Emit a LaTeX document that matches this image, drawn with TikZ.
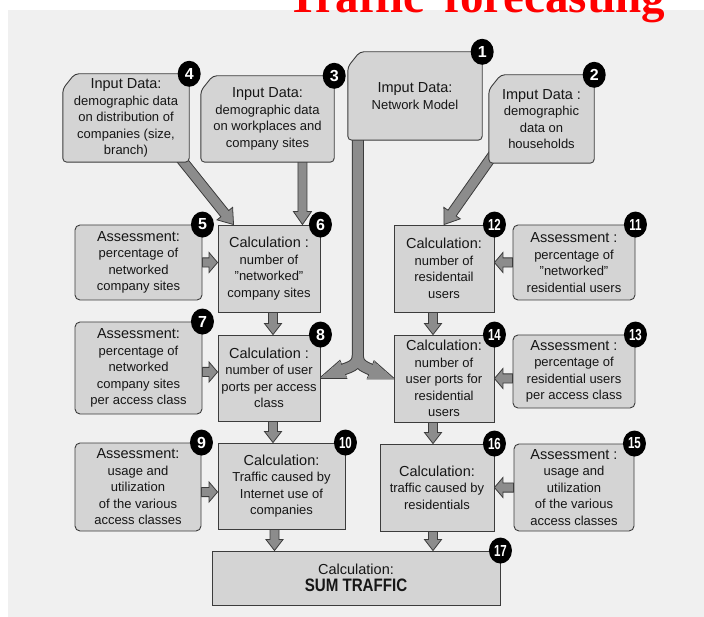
\documentclass[tikz,border=0pt]{standalone}
\usepackage{fontspec}
\setmainfont{Liberation Sans}
\newfontfamily\titlefont{Liberation Serif}
\usepackage{graphicx}
\usetikzlibrary{
    calc,
    shapes.geometric,
    positioning
}
\definecolor{panelgray}{HTML}{F0F0F0}
\definecolor{boxgray}{HTML}{D4D4D4}
\definecolor{edgegray}{HTML}{3C3C3C}
\definecolor{arrowgray}{HTML}{8C8C8C}
\definecolor{textgray}{HTML}{161616}
\pgfdeclarelayer{panel}
\pgfdeclarelayer{arrows}
\pgfdeclarelayer{frames}
\pgfsetlayers{panel,arrows,frames,main}
\tikzset{
    box/.style={align=center, text=textgray, inner sep=1pt, font=\fontsize{13}{16.5}\selectfont},
    calcbox/.style={box, draw=edgegray, fill=boxgray, line width=0.9pt},
    assessbox/.style={calcbox, rounded corners=5pt},
    inputbox/.style={box},
    inputframe/.style={draw=edgegray, fill=boxgray, line width=0.9pt, rounded corners=4pt},
    badge/.style={ellipse, fill=black, text=white, inner sep=0pt, minimum width=23pt, minimum height=26pt, font=\fontsize{16}{16}\selectfont\bfseries},
    blockarrow/.style={draw=edgegray, fill=arrowgray, line width=0.8pt, line join=miter}
}
\newcommand{\hd}[1]{{\fontsize{14.5}{16.5}\selectfont #1}}
\newcommand{\nn}[1]{\scalebox{0.72}[1]{#1}}
% from, to, half shaft, head length, half head
\newcommand{\blockarrow}[5]{%
    \draw[blockarrow]
    ($(#1)!#3!90:(#2)$) --
    ($($(#2)!#4!(#1)$)!#3!-90:(#1)$) --
    ($($(#2)!#4!(#1)$)!#5!-90:(#1)$) --
    (#2) --
    ($($(#2)!#4!(#1)$)!#5!90:(#1)$) --
    ($($(#2)!#4!(#1)$)!#3!90:(#1)$) --
    ($(#1)!#3!-90:(#2)$) -- cycle;}

\begin{document}
\begin{tikzpicture}[x=1pt, y=-1pt]
    \useasboundingbox (0,0) rectangle (704,617);
    \begin{pgfonlayer}{panel}
        \fill[panelgray] (8,10) rectangle (704,617);
    \end{pgfonlayer}
    \node[anchor=base west, text=red, inner sep=0pt, font=\titlefont\bfseries\fontsize{47}{50}\selectfont] (title) at (287,13) {Traffic\hspace{0.42em}forecasting};

    \node[inputbox, minimum width=126pt, minimum height=88pt] (n4) at (126,118) {\hd{Input Data:}\\demographic data\\on distribution of\\companies (size,\\branch)};
    \node[inputbox, minimum width=133pt, minimum height=86pt] (n3) at (267.5,119) {\hd{Input Data:}\\demographic data\\on workplaces and\\company sites};
    \node[inputbox, minimum width=134pt, minimum height=88pt] (n1) at (415,96) {\hd{Imput Data:}\\Network Model};
    \node[inputbox, minimum width=105pt, minimum height=88pt] (n2) at (541.5,119) {\hd{Imput Data :}\\demographic\\data on\\households};

    \node[assessbox, minimum width=127pt, minimum height=75pt] (n5) at (138.5,262.5) {\hd{Assessment:}\\percentage of\\networked\\company sites};
    \node[calcbox, minimum width=102pt, minimum height=87pt] (n6) at (269,268.5) {\hd{Calculation :}\\number of\\"networked"\\company sites};
    \node[assessbox, minimum width=127pt, minimum height=92pt] (n7) at (138.5,368) {\hd{Assessment:}\\percentage of\\networked\\company sites\\per access class};
    \node[calcbox, minimum width=102pt, minimum height=86pt] (n8) at (269,378) {\hd{Calculation :}\\number of user\\ports per access\\class};
    \node[assessbox, minimum width=126pt, minimum height=88pt] (n9) at (138,487) {\hd{Assessment:}\\usage and\\utilization\\of the various\\access classes};
    \node[calcbox, minimum width=127pt, minimum height=86pt] (n10) at (281.5,486) {\hd{Calculation:}\\Traffic caused by\\Internet use of\\companies};

    \node[assessbox, minimum width=122pt, minimum height=75pt] (n11) at (574,262.5) {\hd{Assessment :}\\percentage of\\"networked"\\residential users};
    \node[calcbox, minimum width=100pt, minimum height=87pt] (n12) at (444,268.5) {\hd{Calculation:}\\number of\\residentail\\users};
    \node[assessbox, minimum width=122pt, minimum height=73pt] (n13) at (574,371.5) {\hd{Assessment :}\\percentage of\\residential users\\per access class};
    \node[calcbox, minimum width=100pt, minimum height=87pt] (n14) at (444,378.5) {\hd{Calculation:}\\number of\\user ports for\\residential\\users};
    \node[assessbox, minimum width=120pt, minimum height=87pt] (n15) at (574,487.5) {\hd{Assessment :}\\usage and\\utilization\\of the various\\access classes};
    \node[calcbox, minimum width=114pt, minimum height=87pt] (n16) at (437,487.5) {\hd{Calculation:}\\traffic caused by\\residentials};

    \node[calcbox, minimum width=288pt, minimum height=54pt] (n17) at (356,578) {\hd{Calculation:}\\{\fontsize{18}{21}\selectfont\bfseries\scalebox{0.84}[1]{SUM TRAFFIC}}};

    \begin{pgfonlayer}{frames}
        \foreach \n in {n1,n2,n3,n4}
            \draw[inputframe] ($(\n.north west)+(12,0)$) -- (\n.north east) -- (\n.south east) -- (\n.south west) -- ($(\n.north west)+(0,15)$) -- cycle;
    \end{pgfonlayer}

    \foreach \n/\lbl in {n1/1, n2/2, n3/3, n4/4, n5/5, n6/6, n7/7, n8/8, n9/9}
        \node[badge] (b\lbl) at (\n.north east) {\lbl};
    \foreach \n/\lbl in {n10/10, n11/11, n12/12, n13/13, n14/14, n15/15, n16/16, n17/17}
        \node[badge] (b\lbl) at (\n.north east) {\nn{\lbl}};

    \begin{pgfonlayer}{arrows}
        \coordinate (a4) at ([xshift=-20pt, yshift=18pt]n4.south east);
        \coordinate (e6) at ([xshift=16pt]n6.north west);
        \coordinate (e3) at ([xshift=-18pt]n6.north east);
        \coordinate (s3) at (n3.center -| e3);
        \coordinate (s2) at ([xshift=16pt, yshift=25pt]n2.south west);
        \coordinate (e56) at (n6.west |- n5.east);
        \coordinate (s7) at ([yshift=-4pt]n7.east);
        \coordinate (e78) at (n8.west |- s7);
        \coordinate (s9) at ([yshift=-5pt]n9.east);
        \coordinate (e910) at (n10.west |- s9);
        \coordinate (e1112) at (n12.east |- n11.west);
        \coordinate (s13) at (n13.west |- n14.east);
        \coordinate (e1516) at (n16.east |- n15.west);
        \coordinate (s6) at ([xshift=4pt]n6.south);
        \coordinate (e68) at (s6 |- n8.north);
        \coordinate (s8) at ([xshift=4pt]n8.south);
        \coordinate (e810) at (s8 |- n10.north);
        \coordinate (s10) at ([xshift=-7pt]n10.south);
        \coordinate (e1017) at (s10 |- n17.north);
        \coordinate (s12) at ([xshift=-11pt]n12.south);
        \coordinate (e1214) at (s12 |- n14.north);
        \coordinate (s14) at ([xshift=-11pt]n14.south);
        \coordinate (e1416) at (s14 |- n16.north);
        \coordinate (s16) at ([xshift=-4pt]n16.south);
        \coordinate (e1617) at (s16 |- n17.north);

        \blockarrow{a4}{e6}{5pt}{14pt}{10pt}
        \blockarrow{s3}{e3}{4.5pt}{13pt}{9pt}
        \blockarrow{s2}{n12.north}{5pt}{14pt}{10pt}
        \blockarrow{n5.east}{e56}{4.6pt}{8.5pt}{10pt}
        \blockarrow{s7}{e78}{4.6pt}{8.5pt}{10pt}
        \blockarrow{s9}{e910}{4.6pt}{8.5pt}{10pt}
        \blockarrow{n11.west}{e1112}{4.6pt}{8.5pt}{10pt}
        \blockarrow{s13}{n14.east}{4.6pt}{8.5pt}{10pt}
        \blockarrow{n15.west}{e1516}{4.6pt}{8.5pt}{10pt}
        \blockarrow{s6}{e68}{4.5pt}{11pt}{8.5pt}
        \blockarrow{s8}{e810}{4.5pt}{11pt}{8.5pt}
        \blockarrow{s10}{e1017}{4.5pt}{11pt}{8.5pt}
        \blockarrow{s12}{e1214}{4.5pt}{11pt}{8.5pt}
        \blockarrow{s14}{e1416}{4.5pt}{11pt}{8.5pt}
        \blockarrow{s16}{e1617}{4.5pt}{11pt}{8.5pt}

        % network model splits towards both sides
        \coordinate (s1) at ([xshift=10pt, yshift=5pt]n1.south west);
        \coordinate (j1) at ($(s1)+(0,220)$);
        \foreach \sw/\hw/\col in {12pt/1.8pt/edgegray, 10pt/0pt/arrowgray} {
            \draw[line width=\sw, \col] (s1) -- (j1) .. controls ($(j1)+(0,11)$) and ($(j1)+(-9,12)$) .. ($(n8.east)+(19.7,-7.4)$);
            \draw[line width=\sw, \col] (j1) .. controls ($(j1)+(0,11)$) and ($(j1)+(9,12)$) .. ($(n14.west)+(-19.7,-7.4)$);
            \filldraw[line width=\hw, \col, line join=miter] (n8.east) -- ($(n8.east)+(25.7,-0.1)$) -- ($(n8.east)+(19.3,-16.9)$) -- cycle;
            \filldraw[line width=\hw, \col, line join=miter] (n14.west) -- ($(n14.west)+(-25.7,-0.1)$) -- ($(n14.west)+(-19.3,-16.9)$) -- cycle;
        }
    \end{pgfonlayer}
\end{tikzpicture}
\end{document}
